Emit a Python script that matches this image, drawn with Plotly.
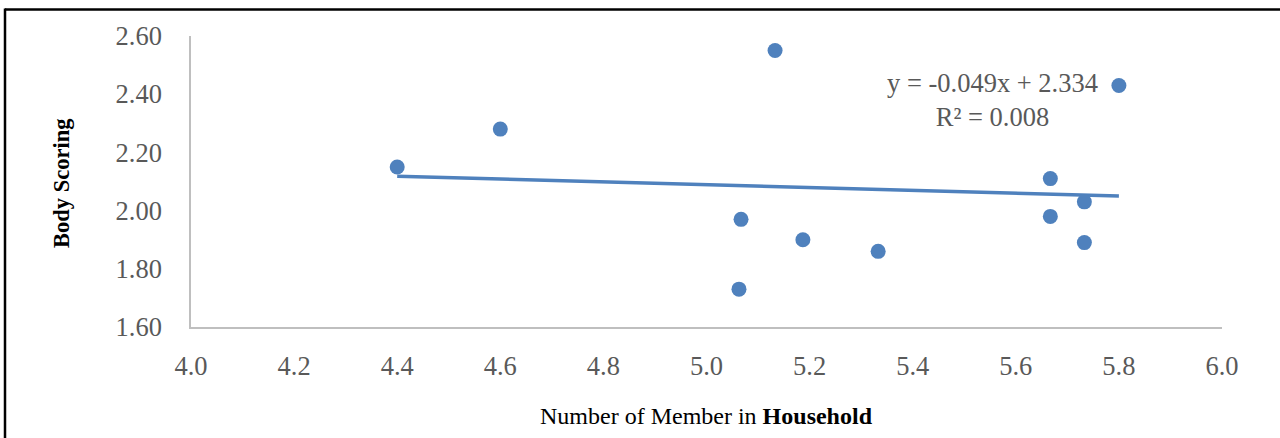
import plotly.graph_objects as go

# Data
household_members = [4.4, 4.6, 5.133, 5.8, 5.067, 5.063, 5.187, 5.333, 5.667, 5.667, 5.733, 5.733]
body_scoring = [2.15, 2.28, 2.55, 2.43, 1.97, 1.73, 1.90, 1.86, 2.11, 1.98, 2.03, 1.89]
trend_slope = -0.049
trend_intercept = 2.334
r_squared = 0.008
x_ticks = [4.0, 4.2, 4.4, 4.6, 4.8, 5.0, 5.2, 5.4, 5.6, 5.8, 6.0]
y_ticks = [1.60, 1.80, 2.00, 2.20, 2.40, 2.60]

W, H = 1280, 438
ML, MR, MT, MB = 191, 58, 36, 111
BLUE = "#4F81BD"
GRAY_TXT = "#595959"
FONT = "Liberation Serif, Times New Roman, serif"

x_lo, x_hi = min(household_members), max(household_members)
trend_x = [x_lo, x_hi]
trend_y = [trend_slope * v + trend_intercept for v in trend_x]

fig = go.Figure()
fig.add_trace(go.Scatter(x=trend_x, y=trend_y, mode="lines",
                         line=dict(color=BLUE, width=3.5), hoverinfo="skip",
                         showlegend=False))
fig.add_trace(go.Scatter(x=household_members, y=body_scoring, mode="markers",
                         marker=dict(color=BLUE, size=15), showlegend=False))

pw = W - ML - MR
ph = H - MT - MB

def px_to_paper_x(px):
    return (px - ML) / pw

def px_to_paper_y(py):
    return (H - MB - py) / ph

# frame lines (top and left)
fig.add_shape(type="line", xref="paper", yref="paper",
              x0=px_to_paper_x(5), x1=px_to_paper_x(1285),
              y0=px_to_paper_y(9.5), y1=px_to_paper_y(9.5),
              line=dict(color="black", width=2.5))
fig.add_shape(type="line", xref="paper", yref="paper",
              x0=px_to_paper_x(5), x1=px_to_paper_x(5),
              y0=px_to_paper_y(8.5), y1=px_to_paper_y(445),
              line=dict(color="black", width=2.5))

sign = "-" if trend_slope < 0 else ""
eq_text = f"y = {sign}{abs(trend_slope):.3f}x + {trend_intercept:.3f}<br>R² = {r_squared:.3f}"
fig.add_annotation(x=5.554, y=2.38, xref="x", yref="y", text=eq_text,
                   showarrow=False, align="center",
                   xanchor="center", yanchor="middle",
                   font=dict(family=FONT, size=26.5, color=GRAY_TXT))

fig.add_annotation(x=0.5, y=px_to_paper_y(416), xref="paper", yref="paper",
                   text="Number of Member in <b>Household</b>", showarrow=False,
                   xanchor="center", yanchor="middle",
                   font=dict(family=FONT, size=24, color="black"))
fig.add_annotation(x=px_to_paper_x(61), y=px_to_paper_y(183), xref="paper", yref="paper",
                   text="<b>Body Scoring</b>", showarrow=False, textangle=-90,
                   xanchor="center", yanchor="middle",
                   font=dict(family=FONT, size=22.5, color="black"))

fig.update_layout(
    width=W, height=H,
    margin=dict(l=ML, r=MR, t=MT, b=MB),
    paper_bgcolor="white", plot_bgcolor="white",
    font=dict(family=FONT, size=26, color=GRAY_TXT),
    showlegend=False,
    xaxis=dict(range=[4.0, 6.0], tickvals=x_ticks,
               ticktext=[f"{v:.1f}" for v in x_ticks],
               showgrid=False, zeroline=False, showline=True,
               linecolor="#BFBFBF", linewidth=1.5, ticks="",
               ticklabelstandoff=14,
               tickfont=dict(family=FONT, size=26.5, color=GRAY_TXT)),
    yaxis=dict(range=[1.6, 2.6], tickvals=y_ticks,
               ticktext=[f"{v:.2f}" for v in y_ticks],
               showgrid=False, zeroline=False, showline=True,
               linecolor="#BFBFBF", linewidth=1.5, ticks="",
               ticklabelstandoff=22,
               tickfont=dict(family=FONT, size=26.5, color=GRAY_TXT)),
)

fig.write_html("out.html", config={"displayModeBar": False},
               post_script="document.body.style.margin='0';document.body.style.overflow='hidden';")
